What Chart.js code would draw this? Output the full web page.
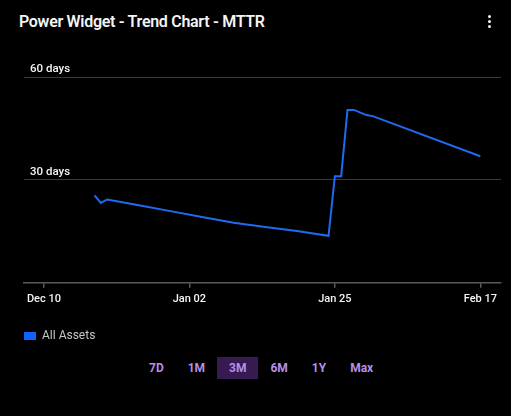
<!DOCTYPE html>
<html>
<head>
<meta charset="utf-8">
<script src="https://cdn.jsdelivr.net/npm/chart.js@4.4.1/dist/chart.umd.min.js"></script>
<style>
  html, body { margin: 0; padding: 0; background: #000; }
  body { width: 511px; height: 416px; position: relative; overflow: hidden; font-family: 'Roboto', sans-serif; }
  .title { position: absolute; left: 19px; top: 12px; color: #f4f4f4; font-size: 16px; font-weight: 600; letter-spacing: -0.3px; }
  .kebab { position: absolute; left: 488px; top: 15px; width: 4px; }
  .kebab span { display: block; width: 3px; height: 3px; border-radius: 50%; background: #f4f4f4; margin-bottom: 2px; }
  .chart-box { position: absolute; left: 0; top: 0; width: 511px; height: 356px; }
  .ranges { position: absolute; left: 137px; top: 357px; display: flex; }
  .ranges span { display: block; height: 22px; line-height: 23px; padding: 0 12px; color: #b68fe8; font-size: 12px; font-weight: 700; }
  .ranges span.active { background: #361b52; }
</style>
</head>
<body>
<div class="title">Power Widget - Trend Chart - MTTR</div>
<div class="kebab"><span></span><span></span><span></span></div>
<div class="chart-box"><canvas id="chart-mttr"></canvas></div>
<div class="ranges">
  <span>7D</span><span>1M</span><span class="active">3M</span><span>6M</span><span>1Y</span><span>Max</span>
</div>
<script>
// ============================================================
// Data
// ============================================================
const DATES = [
  '2023-12-18', '2023-12-19', '2023-12-20', '2023-12-25', '2023-12-30',
  '2024-01-04', '2024-01-09', '2024-01-14', '2024-01-19', '2024-01-24',
  '2024-01-25', '2024-01-26', '2024-01-27', '2024-01-28', '2024-01-30',
  '2024-01-31', '2024-02-17',
];
const MTTR_DAYS = [
  25.5, 23.3, 24.3, 22.6, 20.9,
  19.2, 17.5, 16.3, 15.1, 13.7,
  31.1, 31.1, 50.4, 50.4, 48.9,
  48.6, 36.9,
];
const X_TICKS = ['2023-12-10', '2024-01-02', '2024-01-25', '2024-02-17'];
const Y_TICKS = [0, 30, 60];
const Y_LABELS = ['', '30 days', '60 days'];
const MONTHS = ['Jan','Feb','Mar','Apr','May','Jun','Jul','Aug','Sep','Oct','Nov','Dec'];

const FONT = "'Roboto', sans-serif";

function dayOf(s) {
  return Date.parse(s + 'T00:00:00Z') / 86400000;
}
function fmtDay(d) {
  const dt = new Date(d * 86400000);
  return MONTHS[dt.getUTCMonth()] + ' ' + String(dt.getUTCDate()).padStart(2, '0');
}

// ============================================================
// Chart
// ============================================================
const ctx = document.getElementById('chart-mttr').getContext('2d');
new Chart(ctx, {
  type: 'line',
  data: {
    datasets: [{
      label: 'All Assets',
      data: DATES.map((d, i) => ({ x: dayOf(d), y: MTTR_DAYS[i] })),
      borderColor: '#1f6bf0',
      backgroundColor: '#0f62fe',
      borderWidth: 2,
      pointRadius: 0,
      tension: 0,
    }],
  },
  options: {
    responsive: true,
    maintainAspectRatio: false,
    animation: false,
    layout: { padding: { top: 77, left: 24, right: 10, bottom: 4 } },
    plugins: {
      tooltip: { enabled: false },
      legend: {
        position: 'bottom',
        align: 'start',
        labels: {
          boxWidth: 12,
          boxHeight: 8,
          padding: 0,
          color: '#c6c6c6',
          font: { family: FONT, size: 12 },
          generateLabels: chart => chart.data.datasets.map((ds, i) => ({
            text: ds.label,
            fillStyle: ds.backgroundColor,
            strokeStyle: ds.backgroundColor,
            lineWidth: 0,
            fontColor: '#c6c6c6',
            datasetIndex: i,
          })),
        },
      },
    },
    scales: {
      x: {
        type: 'linear',
        min: dayOf('2023-12-07') - 0.15,
        max: dayOf('2024-02-20') + 0.27,
        afterBuildTicks: axis => { axis.ticks = X_TICKS.map(d => ({ value: dayOf(d) })); },
        afterFit: axis => { axis.height += 19; },
        grid: { drawOnChartArea: false, drawTicks: true, tickLength: 5, color: '#5a5a5a', lineWidth: 1.5 },
        border: { display: true, color: '#5a5a5a', width: 1.5 },
        ticks: {
          color: '#f4f4f4',
          font: { family: FONT, size: 11, weight: '500' },
          padding: 5,
          maxRotation: 0,
          autoSkip: false,
          callback: v => fmtDay(v),
        },
      },
      y: {
        min: 0,
        max: 60,
        afterBuildTicks: axis => { axis.ticks = Y_TICKS.map(v => ({ value: v })); },
        afterFit: axis => { axis.width = 0; },
        grid: {
          drawTicks: false,
          color: c => (c.tick && c.tick.value === 0) ? 'rgba(0,0,0,0)' : '#3a3a3a',
        },
        border: { display: false },
        ticks: {
          mirror: true,
          padding: 6,
          labelOffset: -8,
          color: '#f4f4f4',
          font: { family: FONT, size: 11.5, weight: '500' },
          callback: v => Y_LABELS[Y_TICKS.indexOf(v)],
        },
      },
    },
  },
});
</script>
</body>
</html>
